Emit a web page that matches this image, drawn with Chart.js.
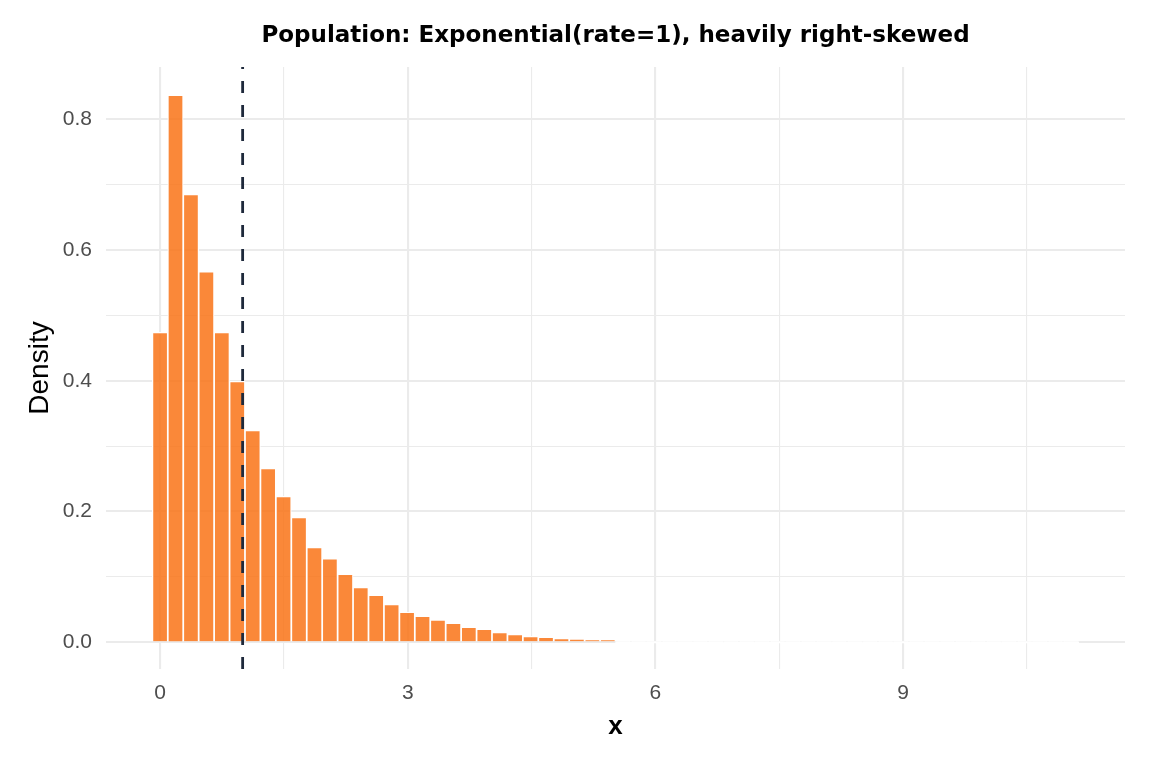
<!DOCTYPE html>
<html>
<head>
<meta charset="utf-8">
<script src="https://cdn.jsdelivr.net/npm/chart.js@4.4.1/dist/chart.umd.min.js"></script>
<style>
  html, body { margin: 0; padding: 0; background: #ffffff; }
  #wrap { width: 1152px; height: 768px; }
</style>
</head>
<body>
<div id="wrap"><canvas id="chart" width="1152" height="768"></canvas></div>
<script>
// histogram bins: centre of each bin on x
var binCenters = [
  0, 0.187, 0.374, 0.561, 0.748, 0.935, 1.122, 1.309, 1.496, 1.683,
  1.87, 2.057, 2.244, 2.431, 2.618, 2.805, 2.992, 3.179, 3.366, 3.553,
  3.74, 3.927, 4.114, 4.301, 4.488, 4.675, 4.862, 5.049, 5.236, 5.423,
  5.61, 5.797, 5.984, 6.171, 6.358, 6.545, 6.732, 6.919, 7.106, 7.293,
  7.48, 7.667, 7.854, 8.041, 8.228, 8.415, 8.602, 8.789, 8.976, 9.163,
  9.35, 9.537, 9.724, 9.911, 10.098, 10.285, 10.472, 10.659, 10.846, 11.033
];
// density of each bin
var density = [
  0.474, 0.837, 0.685, 0.567, 0.474, 0.399, 0.324, 0.266, 0.223, 0.191,
  0.145, 0.128, 0.104, 0.084, 0.072, 0.058, 0.046, 0.040, 0.034, 0.029,
  0.023, 0.020, 0.015, 0.012, 0.009, 0.0076, 0.006, 0.0046, 0.0035, 0.0030,
  0, 0, 0, 0, 0, 0, 0, 0, 0, 0,
  0, 0, 0, 0, 0, 0, 0, 0, 0, 0,
  0, 0, 0, 0, 0, 0, 0, 0, 0, 0
];
var meanX = 1;
var xTicks = [0, 1.5, 3, 4.5, 6, 7.5, 9, 10.5];
var yTicks = [0, 0.1, 0.2, 0.3, 0.4, 0.5, 0.6, 0.7, 0.8];

var FONT = "'Liberation Sans', Arial, sans-serif";

// dashed vertical line at the population mean
var meanLine = {
  id: 'meanLine',
  afterDatasetsDraw: function(chart) {
    var ctx = chart.ctx, area = chart.chartArea;
    var px = chart.scales.x.getPixelForValue(meanX);
    ctx.save();
    ctx.strokeStyle = '#1E293B';
    ctx.lineWidth = 2.8;
    ctx.setLineDash([12, 12]);
    ctx.beginPath();
    ctx.moveTo(px, area.bottom);
    ctx.lineTo(px, area.top);
    ctx.stroke();
    ctx.restore();
  }
};

var bars = binCenters.map(function(x, i) { return {x: x, y: density[i]}; });

var chart = new Chart(document.getElementById('chart').getContext('2d'), {
  type: 'bar',
  data: {
    datasets: [{
      data: bars,
      backgroundColor: function(c) {
        return (c.raw && c.raw.y > 0) ? 'rgba(249,115,22,0.85)' : '#ffffff';
      },
      borderColor: '#ffffff',
      borderWidth: 1.2,
      barPercentage: 1,
      categoryPercentage: 1,
      minBarLength: 2
    }]
  },
  options: {
    responsive: false,
    animation: false,
    events: [],
    layout: { padding: { left: 0, right: 27, top: 0, bottom: 0 } },
    plugins: {
      legend: { display: false },
      tooltip: { enabled: false },
      title: {
        display: true,
        fullSize: false,
        text: 'Population: Exponential(rate=1), heavily right-skewed',
        color: '#000000',
        font: { family: "'DejaVu Sans', sans-serif", size: 23, weight: 'bold' },
        padding: { top: 22.5, bottom: 16.9 }
      }
    },
    scales: {
      x: {
        type: 'linear',
        min: -0.655,
        max: 11.688,
        offset: false,
        grid: {
          offset: false,
          color: '#EBEBEB',
          drawTicks: false,
          lineWidth: function(c) { return (c.tick && c.tick.value % 3 === 0) ? 2.1 : 1.1; }
        },
        border: { display: false },
        afterBuildTicks: function(axis) { axis.ticks = xTicks.map(function(v) { return {value: v}; }); },
        afterFit: function(axis) { axis.height = 99; },
        ticks: {
          autoSkip: false,
          maxRotation: 0,
          padding: 12,
          color: '#4D4D4D',
          font: { family: FONT, size: 21 },
          callback: function(v) { return v % 3 === 0 ? String(v) : ''; }
        },
        title: {
          display: true,
          text: 'x',
          color: '#000000',
          font: { family: FONT, size: 26, weight: 'bold' },
          padding: { top: 0, bottom: 26 }
        }
      },
      y: {
        min: -0.041,
        max: 0.880,
        grid: {
          color: '#EBEBEB',
          drawTicks: false,
          lineWidth: function(c) { return (c.tick && Math.round(c.tick.value * 10) % 2 === 0) ? 2.1 : 1.1; }
        },
        border: { display: false },
        afterBuildTicks: function(axis) { axis.ticks = yTicks.map(function(v) { return {value: v}; }); },
        afterFit: function(axis) { axis.width = 106; },
        ticks: {
          padding: 14,
          color: '#4D4D4D',
          font: { family: FONT, size: 21 },
          callback: function(v) { return Math.round(v * 10) % 2 === 0 ? v.toFixed(1) : ''; }
        },
        title: {
          display: true,
          text: 'Density',
          color: '#000000',
          font: { family: FONT, size: 28 },
          padding: { top: 23, bottom: 0 }
        }
      }
    }
  },
  plugins: [meanLine]
});
</script>
</body>
</html>
